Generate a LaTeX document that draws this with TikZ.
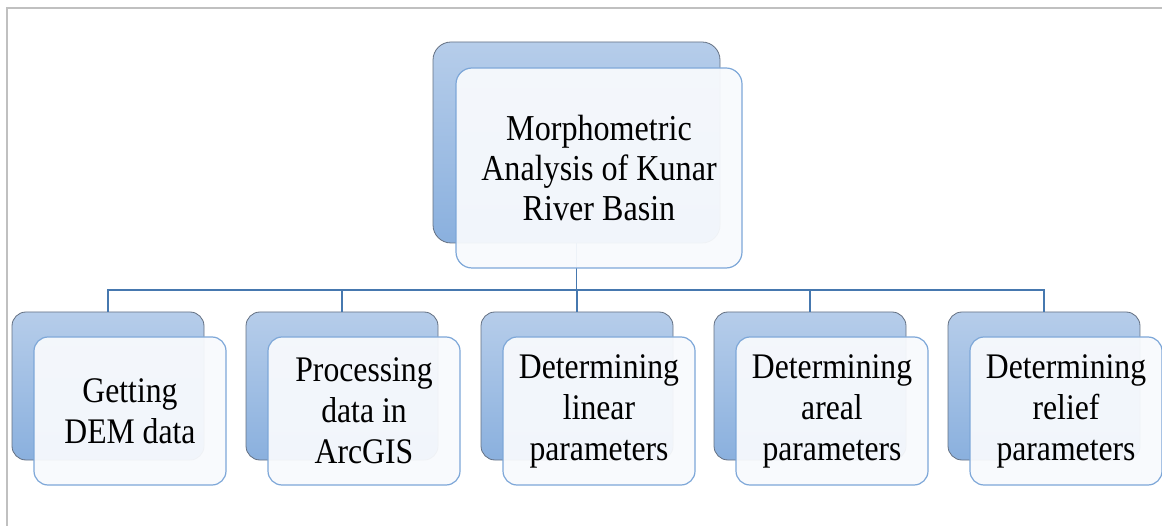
\documentclass[tikz,border=0pt]{standalone}
\usepackage{fontspec}
\setmainfont[FakeStretch=0.88]{Liberation Serif}
\definecolor{backtop}{RGB}{182,205,234}
\definecolor{backbot}{RGB}{138,176,222}
\definecolor{backedge}{RGB}{100,112,130}
\definecolor{frontedge}{RGB}{125,167,216}
\definecolor{frontfill}{RGB}{248,250,253}
\definecolor{linkcol}{RGB}{70,120,175}
\definecolor{framecol}{RGB}{192,192,192}
\begin{document}
\begin{tikzpicture}[x=1pt,y=-1pt,
  backbox/.style={draw=backedge, line width=0.8pt, top color=backtop, bottom color=backbot, rounded corners=14pt, inner sep=0pt},
  frontbox/.style={draw=frontedge, line width=1.2pt, fill=frontfill, fill opacity=0.94, text opacity=1, rounded corners=14pt, inner sep=0pt, align=center},
  link/.style={draw=linkcol, line width=1.8pt},
  toptext/.style={font=\fontsize{36.5}{40}\selectfont},
  bottext/.style={font=\fontsize{36}{41}\selectfont}]
\useasboundingbox (0,0) rectangle (1162,526);
\draw[framecol, line width=2.2pt] (7,526) -- (7,8) -- (1162,8);
% back boxes
\node[backbox, minimum width=287pt, minimum height=201pt, rounded corners=18pt] (b0) at (576.5,142.5) {};
\foreach \i/\x in {1/108,2/342,3/577,4/810,5/1044}{
  \node[backbox, minimum width=192pt, minimum height=148pt] (b\i) at (\x,386) {};
}
% connectors
\coordinate (bus) at (576.5,290);
\draw[link] (b0.south) -- (bus);
\foreach \i in {1,...,5}{
  \draw[link] (b\i.north) |- (bus);
}
% front boxes
\node[frontbox, toptext, minimum width=286pt, minimum height=200pt, rounded corners=16pt] (f0) at (599,168) {Morphometric\\Analysis of Kunar\\River Basin};
\node[frontbox, bottext, minimum width=192pt, minimum height=148pt] (f1) at (130,411) {Getting\\DEM data};
\node[frontbox, bottext, minimum width=192pt, minimum height=148pt] (f2) at (364,411) {Processing\\data in\\ArcGIS};
\node[frontbox, bottext, minimum width=192pt, minimum height=148pt] (f3) at (599,411) {Determining\\linear\\parameters};
\node[frontbox, bottext, minimum width=192pt, minimum height=148pt] (f4) at (832,411) {Determining\\areal\\parameters};
\node[frontbox, bottext, minimum width=192pt, minimum height=148pt] (f5) at (1066,411) {Determining\\relief\\parameters};
\end{tikzpicture}
\end{document}
